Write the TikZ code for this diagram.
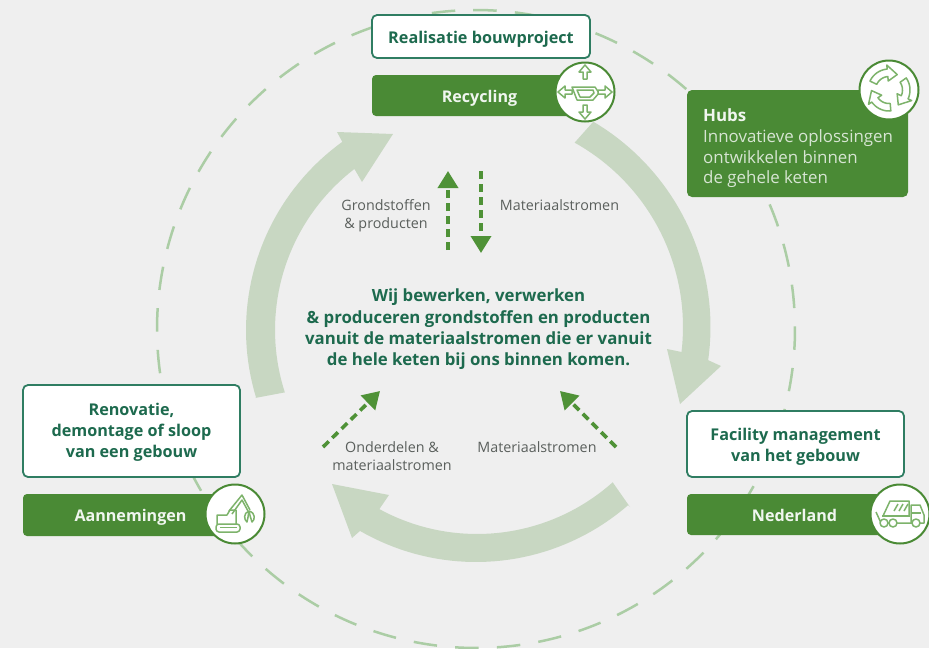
\documentclass[tikz,border=0pt]{standalone}
\usepackage{fontspec}
\setmainfont{Open Sans}
\usetikzlibrary{arrows.meta}
\definecolor{bgc}{HTML}{EFEFEF}
\definecolor{barc}{HTML}{4A8A35}
\definecolor{bandc}{HTML}{C8D7C2}
\definecolor{dashc}{HTML}{ABCDA5}
\definecolor{arrc}{HTML}{4F9237}
\definecolor{txtc}{HTML}{1D6A4E}
\definecolor{edgec}{HTML}{2F7D62}
\definecolor{greyc}{HTML}{5A5F5C}
\definecolor{iconc}{HTML}{7DB36B}
\newcommand\dnb{\rule{0pt}{17pt}}
\newcommand\dnc{\rule{0pt}{14.5pt}}
\tikzset{
  whitebox/.style={draw=edgec,line width=1.8pt,fill=white,rounded corners=5pt,inner sep=0pt,align=center,text=txtc,font=\bfseries\fontsize{16.2}{21}\selectfont},
  greenbar/.style={fill=barc,rounded corners=4pt,inner sep=0pt,align=center,text=white!92!barc,font=\bfseries\fontsize{16.1}{21}\selectfont},
  badge/.style={circle,draw=barc,line width=2pt,fill=white,minimum size=59pt,inner sep=0pt},
  smalllabel/.style={inner sep=0pt,align=center,text=greyc,font=\fontsize{14.3}{18}\selectfont},
  flow/.style={arrc,line width=3.6pt,dash pattern=on 8pt off 5pt,-{Triangle[width=20pt,length=17pt]}},
  band/.style={fill=bandc},
  icon/.style={draw=iconc,line width=1.5pt,fill=white,line join=round}
}
\begin{document}
\begin{tikzpicture}[x=1pt,y=-1pt]
\fill[bgc] (0,0) rectangle (929,648);
\useasboundingbox (0,0) rectangle (929,648);
% dashed ring
\clip (0,0) rectangle (929,648);
\draw[dashc,line width=2.5pt,dash pattern=on 23.5pt off 18.26pt] plot[domain=-90.5:269.5,samples=361] ({476+319*cos(\x)},{329+319*sin(\x)});
% thick arcs
\fill[band] (593,122) -- plot[domain=-59.4:8,samples=40] ({472+238.5*cos(\x)},{327+238.5*sin(\x)}) -- (721,366) -- (680,404) -- (667,349) -- plot[domain=6.8:-60.9,samples=40] ({472+211*cos(\x)},{327+211*sin(\x)}) -- cycle;
\fill[band] (255,398) -- plot[domain=163:234.2,samples=40] ({478+232*cos(\x)},{330+232*sin(\x)}) -- (337,132) -- (393,134) -- (362,182) -- plot[domain=232.5:162.1,samples=40] ({478+203*cos(\x)},{330+203*sin(\x)}) -- cycle;
\fill[band] (630,507) -- plot[domain=49:120,samples=40] ({476+232*cos(\x)},{330+232*sin(\x)}) -- (352,538) -- (332,484) -- (389,495) -- plot[domain=118.6:48.3,samples=40] ({477+204*cos(\x)},{330+204*sin(\x)}) -- cycle;
% boxes
\node[whitebox,minimum width=218pt,minimum height=43pt] (real) at (481,36.5) {\dnb Realisatie bouwproject};
\node[greenbar,minimum width=215pt,minimum height=41pt] (recy) at (479.5,95.5) {\dnb Recycling};
\node[badge] (recyb) at (585,92) {};
\node[fill=barc,rounded corners=5pt,minimum width=221pt,minimum height=107pt,inner sep=0pt] (hubs) at (797.5,143.5) {};
\node[badge] (hubsb) at (889,90) {};
\node[anchor=north west,inner sep=0pt,align=left,text=white!78!barc,font=\fontsize{16.9}{20.8}\selectfont] (hubst) at (703,108.5) {{\bfseries\color{white!92!barc}Hubs}\\Innovatieve oplossingen\\ontwikkelen binnen\\de gehele keten};
\node[whitebox,minimum width=217pt,minimum height=66pt] (faci) at (795.5,444) {\dnb Facility management\\van het gebouw};
\node[greenbar,minimum width=215pt,minimum height=41pt] (nede) at (794.5,514.5) {\dnc Nederland};
\node[badge] (nedeb) at (900,514) {};
\node[whitebox,minimum width=217pt,minimum height=92pt] (reno) at (131.5,431) {\dnc Renovatie,\\demontage of sloop\\van een gebouw};
\node[greenbar,minimum width=215pt,minimum height=42pt] (aann) at (130.5,515) {\dnb Aannemingen};
\node[badge] (aannb) at (235,514) {};
% center text
\node[inner sep=0pt,align=center,text=txtc,font=\bfseries\fontsize{16.8}{21.3}\selectfont] (main) at (478.5,329.5) {Wij bewerken, verwerken\\\& produceren grondstoffen en producten\\vanuit de materiaalstromen die er vanuit\\de hele keten bij ons binnen komen.};
% labels
\node[smalllabel] (l1) at (386,215.5) {Grondstoffen\\\& producten};
\node[smalllabel] (l2) at (559.5,205) {Materiaalstromen};
\node[smalllabel] (l3) at (392,456) {Onderdelen \&\\materiaalstromen};
\node[smalllabel] (l4) at (537,447) {Materiaalstromen};
% flows
\coordinate (a1s) at (448,250); \coordinate (a1e) at (448,171);
\coordinate (a2s) at (481,171); \coordinate (a2e) at (481,253);
\coordinate (a3s) at (323,447); \coordinate (a3e) at (380,391);
\coordinate (a4s) at (616,447); \coordinate (a4e) at (560,391);
\draw[flow] (a1s) -- (a1e);
\draw[flow] (a2s) -- (a2e);
\draw[flow] (a3s) -- (a3e);
\draw[flow] (a4s) -- (a4e);
% recycling icon
\begin{scope}[shift={(recyb.center)}]
\draw[icon] (-13,-5) -- (10,-5) -- (14,1) -- (8,8) -- (-8,8) -- cycle;
\draw[icon] (-8,-2) -- (8,-2) -- (9,1) -- (5,5) -- (-5,5) -- cycle;
\foreach \r in {-90,0,90,180}{
\draw[icon,rotate=\r] (13,-2) -- (20,-2) -- (20,-6) -- (27,0) -- (20,6) -- (20,2) -- (13,2) -- cycle;
}
\end{scope}
% hubs icon
\begin{scope}[shift={(hubsb.center)}]
\foreach \r in {0,120,240}{
\begin{scope}[rotate=\r]
\draw[icon] plot[domain=-155:-95,samples=14] ({21*cos(\x)},{21*sin(\x)}) -- ({25*cos(-95)},{25*sin(-95)}) -- ({17.5*cos(-62)},{17.5*sin(-62)}) -- ({9*cos(-95)},{9*sin(-95)}) -- ({13.5*cos(-95)},{13.5*sin(-95)}) -- plot[domain=-95:-155,samples=14] ({13.5*cos(\x)},{13.5*sin(\x)}) -- cycle;
\end{scope}
}
\end{scope}
% truck icon
\begin{scope}[shift={(nedeb.center)}]
\draw[icon,fill=none] (-17,2) -- (-10,-13) -- (9,-13) -- (9,2) -- cycle;
\draw[icon,fill=none] (11,-9) -- (20,-9) -- (24,1) -- (24,9) -- (11,9) -- cycle;
\draw[icon,fill=none] (11,-1) -- (21,-1);
\draw[icon,fill=none] (-24,-2) -- (-19,9) -- (11,9);
\draw[icon,fill=none] (-18,2) -- (10,2);
\foreach \h in {-4,1,6}{\draw[icon,fill=none] (\h-2,-3) -- (\h+2,-10);}
\foreach \w in {-16,-7,16}{\draw[icon] (\w,9) circle (4pt);}
\end{scope}
% excavator icon
\begin{scope}[shift={(aannb.center)}]
\draw[icon,fill=none,rounded corners=3pt] (-19,10) rectangle (5,18);
\draw[icon,fill=none] (-18,10) -- (-18,1) -- (-8,1) -- (-5,-4) -- (1,-4) -- (1,10);
\draw[icon,fill=none] (-6,-3) -- (7,-19) -- (15,-4);
\draw[icon,fill=none] (-3,0) -- (7,-14) -- (13,-3);
\draw[icon,fill=none] (-15,13.5) -- (2,13.5);
\draw[icon,fill=none] (14,-3) .. controls (8,-1) and (9,6) .. (12,8) .. controls (13,5) and (13,2) .. (14,-3);
\draw[icon,fill=none] (14,-3) .. controls (21,-1) and (20,6) .. (17,8) .. controls (16,5) and (15,2) .. (14,-3);
\end{scope}
\end{tikzpicture}
\end{document}
